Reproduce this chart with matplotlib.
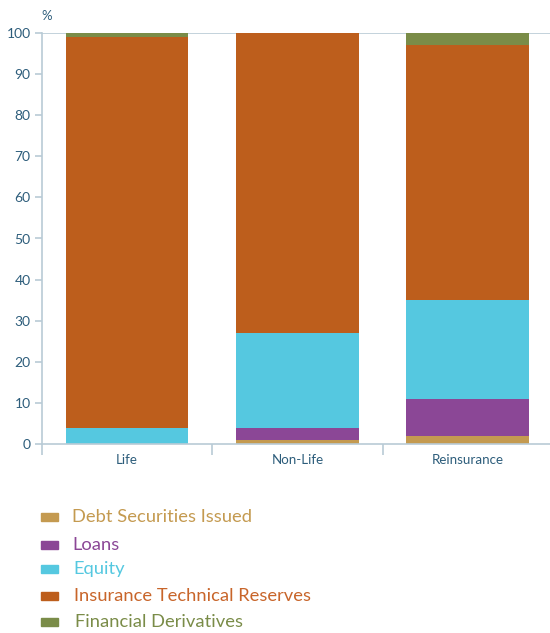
import matplotlib
matplotlib.use("Agg")
import matplotlib.pyplot as plt
from matplotlib.patches import Rectangle
import numpy as np

plt.rcParams['font.family'] = ['Lato', 'DejaVu Sans']

categories = ["Life", "Non-Life", "Reinsurance"]
series = ["Debt Securities Issued", "Loans", "Equity",
          "Insurance Technical Reserves", "Financial Derivatives"]
debt = [0, 1, 2]
loans = [0, 3, 9]
equity = [4, 23, 24]
itr = [95, 73, 62]
fin_deriv = [1, 0, 3]
values = [debt, loans, equity, itr, fin_deriv]
colors = ["#c49a50", "#8b4796", "#55c8e0", "#bd5e1c", "#7a8c48"]
text_colors = ["#c49a50", "#8b4796", "#55c8e0", "#c8652a", "#7a8c48"]

W, H = 550, 633
fig = plt.figure(figsize=(W / 100, H / 100), dpi=100)
ax = fig.add_axes([41.7 / W, 1 - 444 / H, (553 - 41.7) / W, (444 - 33) / H])

x = np.arange(len(categories))
bottom = np.zeros(len(categories))
for vals, c in zip(values, colors):
    ax.bar(x, vals, bottom=bottom, width=0.72, color=c, linewidth=0, zorder=2)
    bottom += np.array(vals)

axis_col = "#b9cbd6"
tick_col = "#2d5d7b"
ax.set_xlim(-0.5, len(categories) - 0.5)
ax.set_ylim(0, 100)
ax.set_yticks(np.arange(0, 101, 10))
ax.axhline(100, color=axis_col, lw=1.2, zorder=1)
for s in ["top", "right"]:
    ax.spines[s].set_visible(False)
ax.spines["left"].set_color(axis_col)
ax.spines["bottom"].set_color(axis_col)
ax.spines["left"].set_linewidth(1.2)
ax.spines["bottom"].set_linewidth(1.2)
ax.tick_params(axis="y", colors=axis_col, labelcolor=tick_col, labelsize=10,
               length=5, width=1.2, pad=3)
ax.set_xticks(x)
ax.set_xticklabels(categories)
ax.tick_params(axis="x", length=0, labelcolor=tick_col, labelsize=9.6, pad=7)
ax.set_xticks(np.arange(-0.5, len(categories), 1.0), minor=True)
ax.tick_params(axis="x", which="minor", length=8, width=1.2, color=axis_col)

fig.text(41 / W, 1 - 16 / H, "%", color=tick_col, fontsize=9.5, ha="left", va="center")

leg_y = [517, 545, 569, 596, 622]
leg_tx = [72, 72, 73, 74, 75]
for name, c, tc, yy, tx in zip(series, colors, text_colors, leg_y, leg_tx):
    fig.patches.append(Rectangle((41 / W, 1 - (yy + 4) / H), 17 / W, 8 / H,
                                 transform=fig.transFigure, color=c, figure=fig))
    fig.text(tx / W, 1 - yy / H, name, color=tc, fontsize=13.2, ha="left", va="center")

fig.savefig("out.png", dpi=100)
